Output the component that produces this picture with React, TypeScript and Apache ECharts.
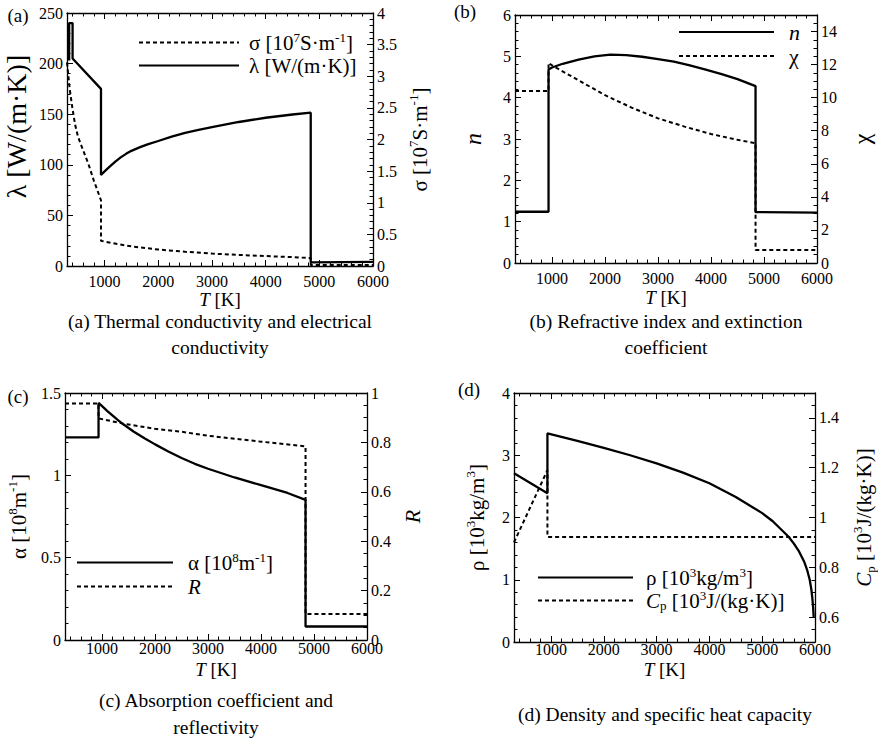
import React, { useEffect, useRef } from 'react';
import * as echarts from 'echarts';

const F = 'Liberation Serif, Times New Roman, serif';

// ---------- x axis (all panels) ----------
const xMajorTicks = [1000, 2000, 3000, 4000, 5000, 6000];

// ---------- panel (a) ----------
const aLambdaT = [340, 340, 404, 404, 933, 933, 1000, 1100, 1200, 1300, 1400, 1500, 1650, 1800, 2000, 2250, 2500, 2750, 3000, 3500, 4000, 4500, 4840, 4840, 6000];
const aLambdaV = [203, 240, 240, 205, 175, 90, 93.5, 98.5, 103.2, 107.3, 110.8, 113.8, 117.2, 120.2, 123.5, 127.8, 131.5, 134.6, 137.3, 142.3, 146.5, 149.7, 151.5, 3.5, 4];
const aSigmaT = [300, 350, 400, 450, 500, 550, 600, 700, 800, 933, 933, 1000, 1250, 1500, 2000, 2500, 3000, 3500, 4000, 4500, 4840, 4840, 6000];
const aSigmaV = [3.22, 2.8, 2.5, 2.24, 2.06, 1.94, 1.83, 1.61, 1.35, 1.04, 0.4, 0.385, 0.345, 0.31, 0.26, 0.225, 0.196, 0.175, 0.157, 0.14, 0.125, 0.015, 0.015];
const aLeftTicks = [0, 50, 100, 150, 200, 250];
const aRightTicks = [0, 0.5, 1, 1.5, 2, 2.5, 3, 3.5, 4];

// ---------- panel (b) ----------
const bNT = [300, 933, 933, 1000, 1200, 1500, 1800, 2100, 2400, 2700, 3000, 3300, 3600, 3900, 4200, 4500, 4840, 4840, 6000];
const bNV = [1.24, 1.24, 4.68, 4.73, 4.82, 4.92, 5.0, 5.04, 5.03, 4.99, 4.93, 4.87, 4.78, 4.68, 4.57, 4.45, 4.28, 1.23, 1.22];
const bChiT = [300, 933, 933, 1000, 1500, 2000, 2500, 3000, 3500, 4000, 4500, 4840, 4840, 6000];
const bChiV = [10.4, 10.4, 12.1, 11.95, 11.05, 10.15, 9.4, 8.75, 8.25, 7.8, 7.45, 7.25, 0.78, 0.78];
const bLeftTicks = [0, 1, 2, 3, 4, 5, 6];
const bRightTicks = [0, 2, 4, 6, 8, 10, 12, 14];

// ---------- panel (c) ----------
const cAlphaT = [300, 933, 933, 1000, 1100, 1200, 1300, 1400, 1600, 1800, 2000, 2250, 2500, 2750, 3000, 3500, 4000, 4500, 4840, 4840, 6000];
const cAlphaV = [1.23, 1.23, 1.44, 1.42, 1.39, 1.362, 1.335, 1.31, 1.265, 1.225, 1.188, 1.145, 1.105, 1.07, 1.04, 0.987, 0.94, 0.893, 0.851, 0.082, 0.082];
const cRT = [300, 933, 933, 1400, 2000, 2500, 3000, 4000, 4840, 4840, 6000];
const cRV = [0.957, 0.957, 0.897, 0.876, 0.855, 0.843, 0.827, 0.803, 0.784, 0.105, 0.105];
const cLeftTicks = [0, 0.5, 1, 1.5];
const cRightTicks = [0, 0.2, 0.4, 0.6, 0.8, 1];

// ---------- panel (d) ----------
const dRhoT = [300, 933, 933, 1500, 2000, 2500, 3000, 3500, 4000, 4500, 5000, 5200, 5500, 5600, 5700, 5800, 5850, 5900, 5930, 5950, 5965, 5975];
const dRhoV = [2.71, 2.39, 3.35, 3.23, 3.12, 3.0, 2.87, 2.72, 2.55, 2.33, 2.07, 1.94, 1.69, 1.58, 1.45, 1.28, 1.16, 1.0, 0.85, 0.7, 0.55, 0.4];
const dCpT = [300, 933, 933, 6000];
const dCpV = [0.9, 1.19, 0.922, 0.922];
const dLeftTicks = [0, 1, 2, 3, 4];
const dRightTicks = [0.6, 0.8, 1, 1.2, 1.4];

// ---------- texts ----------
const LABELS: Record<string, string> = {
  'σ': '{t|σ [10}{sup|7}{t|S·m}{sup|-1}{t|]}',
  'λ': '{t|λ [W/(m·K)]}',
  'n': '{it|n}',
  'χ': '{t|χ}',
  'α': '{t|α [10}{sup|8}{t|m}{sup|-1}{t|]}',
  'R': '{it|R}',
  'ρ': '{t|ρ [10}{sup|3}{t|kg/m}{sup|3}{t|]}',
  'Cp': '{it|C}{sub|p}{t| [10}{sup|3}{t|J/(kg·K)]}',
};
const X_NAME = '{it|T}{t| [K]}';

function richFor(size: number, lhExtra = 5, pad = 0) {
  const s = Math.round(size * 0.62);
  return {
    t: { fontFamily: F, fontSize: size, color: '#000', lineHeight: size + lhExtra },
    it: { fontFamily: F, fontSize: size, color: '#000', fontStyle: 'italic', lineHeight: size + lhExtra },
    sup: { fontFamily: F, fontSize: s, color: '#000', verticalAlign: 'top', lineHeight: s + 1 },
    sub: { fontFamily: F, fontSize: s, color: '#000', verticalAlign: 'bottom', lineHeight: s + 1 },
    g: { fontFamily: F, fontSize: size, width: pad, lineHeight: size + lhExtra },
  };
}

function minors(start: number, end: number, step: number, majors: number[]) {
  const out: number[] = [];
  const n = Math.round((end - start) / step);
  for (let i = 1; i < n; i++) {
    const v = +(start + i * step).toFixed(6);
    if (!majors.some((m) => Math.abs(m - v) < 1e-9)) out.push(v);
  }
  return out;
}

const xMinorTicks = minors(0, 6000, 200, xMajorTicks).filter((v) => v > 300);

type AxisSpec = { min: number; max: number; ticks: number[]; minor: number[]; name: string; size: number; gap: number; shift?: number };
type Panel = {
  grid: { left: number; top: number; width: number; height: number };
  xLabelMargin: number;
  xNameGap: number;
  yl: AxisSpec;
  yr: AxisSpec;
  series: { name: string; t: number[]; v: number[]; side: 'l' | 'r'; dashed: boolean }[];
  legend: { left: number; top: number; itemWidth: number; data: string[]; size: number; gap: number; pad: number };
  caption: { x: number; ys: number[]; lines: string[] };
  label: { text: string; x: number; y: number };
};

const panels: Panel[] = [
  {
    grid: { left: 67, top: 13, width: 306, height: 253 },
    xLabelMargin: 8,
    xNameGap: 24,
    yl: { min: 0, max: 250, ticks: aLeftTicks, minor: minors(0, 250, 10, aLeftTicks), name: LABELS['λ'], size: 28, gap: 34, shift: 13 },
    yr: { min: 0, max: 4, ticks: aRightTicks, minor: minors(0, 4, 0.1, aRightTicks), name: LABELS['σ'], size: 21, gap: 34 },
    series: [
      { name: 'σ', t: aSigmaT, v: aSigmaV, side: 'r', dashed: true },
      { name: 'λ', t: aLambdaT, v: aLambdaV, side: 'l', dashed: false },
    ],
    legend: { left: 138, top: 31, itemWidth: 100, data: ['σ', 'λ'], size: 21, gap: 2, pad: 5 },
    caption: { x: 220, ys: [321, 347], lines: ['(a) Thermal conductivity and electrical', 'conductivity'] },
    label: { text: '(a)', x: 18, y: 15 },
  },
  {
    grid: { left: 515, top: 15, width: 302, height: 248 },
    xLabelMargin: 8,
    xNameGap: 25,
    yl: { min: 0, max: 6, ticks: bLeftTicks, minor: minors(0, 6, 0.2, bLeftTicks), name: LABELS['n'], size: 24, gap: 28 },
    yr: { min: 0, max: 15, ticks: bRightTicks, minor: minors(0, 15, 0.5, bRightTicks), name: LABELS['χ'], size: 24, gap: 30 },
    series: [
      { name: 'n', t: bNT, v: bNV, side: 'l', dashed: false },
      { name: 'χ', t: bChiT, v: bChiV, side: 'r', dashed: true },
    ],
    legend: { left: 678, top: 21, itemWidth: 95, data: ['n', 'χ'], size: 22, gap: 2, pad: 10 },
    caption: { x: 666, ys: [321, 347], lines: ['(b) Refractive index and extinction', 'coefficient'] },
    label: { text: '(b)', x: 465, y: 11 },
  },
  {
    grid: { left: 65, top: 393, width: 302, height: 247 },
    xLabelMargin: 1,
    xNameGap: 20,
    yl: { min: 0, max: 1.5, ticks: cLeftTicks, minor: minors(0, 1.5, 0.1, cLeftTicks), name: LABELS['α'], size: 21, gap: 33 },
    yr: { min: 0, max: 1, ticks: cRightTicks, minor: minors(0, 1, 0.05, cRightTicks), name: LABELS['R'], size: 22, gap: 32 },
    series: [
      { name: 'α', t: cAlphaT, v: cAlphaV, side: 'l', dashed: false },
      { name: 'R', t: cRT, v: cRV, side: 'r', dashed: true },
    ],
    legend: { left: 76, top: 551, itemWidth: 96, data: ['α', 'R'], size: 21, gap: 3, pad: 10 },
    caption: { x: 216, ys: [700, 727], lines: ['(c) Absorption coefficient and', 'reflectivity'] },
    label: { text: '(c)', x: 18, y: 396 },
  },
  {
    grid: { left: 514, top: 393, width: 302, height: 249 },
    xLabelMargin: 0,
    xNameGap: 18,
    yl: { min: 0, max: 4, ticks: dLeftTicks, minor: minors(0, 4, 0.2, dLeftTicks), name: LABELS['ρ'], size: 21, gap: 24 },
    yr: { min: 0.5, max: 1.5, ticks: dRightTicks, minor: minors(0.5, 1.5, 0.05, dRightTicks), name: LABELS['Cp'], size: 21, gap: 36 },
    series: [
      { name: 'ρ', t: dRhoT, v: dRhoV, side: 'l', dashed: false },
      { name: 'Cp', t: dCpT, v: dCpV, side: 'r', dashed: true },
    ],
    legend: { left: 537, top: 566, itemWidth: 95, data: ['ρ', 'Cp'], size: 21, gap: 1, pad: 8 },
    caption: { x: 665, ys: [714], lines: ['(d) Density and specific heat capacity'] },
    label: { text: '(d)', x: 469, y: 389 },
  },
];

const LINE = { color: '#000', width: 1.3 };
const TICK = { color: '#000', width: 1 };
const LABEL_STYLE = { color: '#000', fontFamily: F, fontSize: 16, lineHeight: 15, formatter: (v: number) => String(v) };

function buildOption() {
  const grid: any[] = [];
  const xAxis: any[] = [];
  const yAxis: any[] = [];
  const series: any[] = [];
  const legend: any[] = [];
  const graphic: any[] = [];

  panels.forEach((p, g) => {
    grid.push({ ...p.grid, containLabel: false });
    const xBase = { type: 'value', gridIndex: g, min: 300, max: 6000, splitLine: { show: false } };
    xAxis.push(
      {
        ...xBase, position: 'bottom',
        axisLine: { show: true, onZero: false, lineStyle: LINE },
        axisTick: { show: true, inside: true, length: 6, customValues: xMajorTicks, lineStyle: TICK },
        axisLabel: { show: true, customValues: xMajorTicks, margin: p.xLabelMargin, ...LABEL_STYLE },
        name: X_NAME, nameLocation: 'middle', nameGap: p.xNameGap,
        nameTextStyle: { rich: richFor(19, 0) },
      },
      {
        ...xBase, position: 'bottom',
        axisLine: { show: false, onZero: false },
        axisTick: { show: true, inside: true, length: 3.5, customValues: xMinorTicks, lineStyle: TICK },
        axisLabel: { show: false },
      },
      {
        ...xBase, position: 'top',
        axisLine: { show: true, onZero: false, lineStyle: LINE },
        axisTick: { show: true, inside: true, length: 6, customValues: xMajorTicks, lineStyle: TICK },
        axisLabel: { show: false },
      },
      {
        ...xBase, position: 'top',
        axisLine: { show: false, onZero: false },
        axisTick: { show: true, inside: true, length: 3.5, customValues: xMinorTicks, lineStyle: TICK },
        axisLabel: { show: false },
      },
    );
    ([['left', p.yl], ['right', p.yr]] as [string, AxisSpec][]).forEach(([pos, a]) => {
      const yBase = { type: 'value', gridIndex: g, min: a.min, max: a.max, position: pos, splitLine: { show: false } };
      yAxis.push(
        {
          ...yBase,
          axisLine: { show: true, onZero: false, lineStyle: LINE },
          axisTick: { show: true, inside: true, length: 6, customValues: a.ticks, lineStyle: TICK },
          axisLabel: { show: true, customValues: a.ticks, margin: 4, ...LABEL_STYLE },
          name: a.name, nameLocation: 'middle', nameGap: a.gap, nameRotate: 90,
          nameTextStyle: { rich: richFor(a.size), padding: [0, 0, 0, (a.shift || 0) * 2] },
        },
        {
          ...yBase,
          axisLine: { show: false, onZero: false },
          axisTick: { show: true, inside: true, length: 3.5, customValues: a.minor, lineStyle: TICK },
          axisLabel: { show: false },
        },
      );
    });
    p.series.forEach((s) => {
      series.push({
        type: 'line',
        name: s.name,
        xAxisIndex: g * 4,
        yAxisIndex: g * 4 + (s.side === 'l' ? 0 : 2),
        data: s.t.map((t, i) => [t, s.v[i]]),
        showSymbol: false,
        symbol: 'none',
        silent: true,
        lineStyle: { color: '#000', width: s.dashed ? 2 : 2.3, type: s.dashed ? [4, 3] : 'solid' },
        itemStyle: { color: '#000' },
        emphasis: { disabled: true },
      });
    });
    legend.push({
      left: p.legend.left,
      top: p.legend.top,
      padding: 0,
      orient: 'vertical',
      itemWidth: p.legend.itemWidth,
      itemHeight: 14,
      itemGap: p.legend.gap,
      selectedMode: false,
      data: p.legend.data,
      itemStyle: { opacity: 0, color: 'rgba(0,0,0,0)', borderWidth: 0 },
      formatter: (name: string) => '{g| }' + (LABELS[name] || name),
      textStyle: { fontFamily: F, fontSize: p.legend.size, color: '#000', rich: richFor(p.legend.size, 2, p.legend.pad) },
    });
    p.caption.lines.forEach((line, i) => {
      graphic.push({
        type: 'text', x: p.caption.x, y: p.caption.ys[i],
        style: { text: line, font: `19.5px ${F}`, fill: '#000', textAlign: 'center', textVerticalAlign: 'middle' },
      });
    });
    graphic.push({
      type: 'text', x: p.label.x, y: p.label.y,
      style: { text: p.label.text, font: `19px ${F}`, fill: '#000', textAlign: 'center', textVerticalAlign: 'middle' },
    });
  });

  return {
    animation: false,
    backgroundColor: '#fff',
    grid, xAxis, yAxis, series, legend, graphic,
  };
}

export default function App() {
  const ref = useRef<HTMLDivElement>(null);
  useEffect(() => {
    const chart = echarts.init(ref.current as HTMLDivElement, null, { renderer: 'svg' });
    chart.setOption(buildOption() as any);
    return () => chart.dispose();
  }, []);
  return <div ref={ref} style={{ position: 'fixed', left: 0, top: 0, width: 878, height: 754, background: '#fff' }} />;
}
